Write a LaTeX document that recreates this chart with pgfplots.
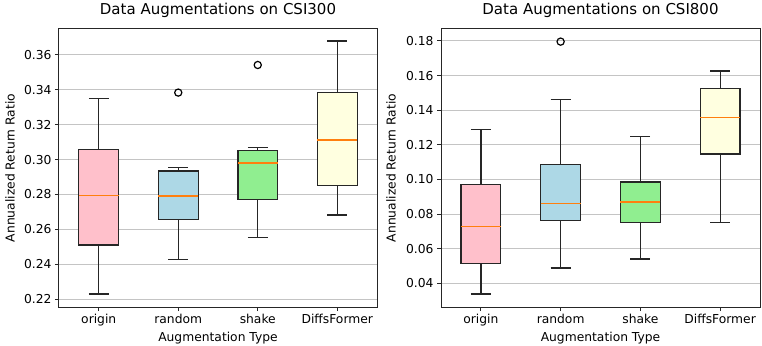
\documentclass[border=0pt]{standalone}
\usepackage{fontspec}
\setmainfont{DejaVu Sans}
\usepackage{pgfplots}
\pgfplotsset{compat=1.18}
\usepgfplotslibrary{statistics}
\definecolor{cpink}{HTML}{FFC0CB}
\definecolor{cblue}{HTML}{ADD8E6}
\definecolor{cgreen}{HTML}{90EE90}
\definecolor{cyellow}{HTML}{FFFFE0}
\definecolor{cmed}{HTML}{FF7F0E}
\definecolor{cgrid}{HTML}{C4C4C4}
\pgfplotsset{
  myax/.style={
    scale only axis, height=278pt, anchor=south west,
    xmin=0.5, xmax=4.5, xtick={1,2,3,4},
    xticklabels={origin,random,shake,DiffsFormer},
    tick align=outside, xtick pos=left, ytick pos=left,
    major tick length=4pt,
    tick style={black!85, line width=0.9pt},
    axis line style={black!85, line width=1pt},
    ymajorgrids, grid style={cgrid, line width=0.9pt},
    tick label style={font=\fontsize{12.3}{14}\selectfont},
    label style={font=\fontsize{12.3}{14}\selectfont},
    title style={font=\fontsize{15}{18}\selectfont, at={(axis description cs:0.5,1)}, anchor=base, yshift=8pt},
    yticklabel={\pgfmathprintnumber[fixed,fixed zerofill,precision=2,assume math mode=true]{\tick}},
    xlabel=Augmentation Type, ylabel=Annualized Return Ratio,
    xlabel style={at={(axis description cs:0.5,0)}, anchor=base, yshift=-34pt},
    boxplot/draw direction=y,
    boxplot/box extend=0.5, boxplot/whisker extend=0.25,
    boxplot/every median/.style={draw=cmed, line width=1.3pt},
  },
  bx/.style={draw=black!85, line width=1.25pt, fill=#1, mark=o,
    mark options={draw=black, fill=none, line width=1.2pt}, mark size=3.6pt},
}
\begin{document}
\begin{tikzpicture}
\useasboundingbox (0,0) rectangle (762pt,345pt);
\begin{axis}[myax, at={(59pt,38pt)}, width=318pt,
  ymin=0.2156, ymax=0.3747,
  ytick={0.22,0.24,0.26,0.28,0.30,0.32,0.34,0.36},
  ylabel style={at={(axis description cs:-0.154,0.5)}, anchor=center},
  title={Data Augmentations on CSI300}]
\addplot[bx=cpink, boxplot prepared={draw position=1, lower whisker=0.2231, lower quartile=0.2511, median=0.2793, upper quartile=0.3058, upper whisker=0.3348}] coordinates {};
\addplot[bx=cblue, boxplot prepared={draw position=2, lower whisker=0.2427, lower quartile=0.2656, median=0.2791, upper quartile=0.2934, upper whisker=0.2953}] coordinates {(0,0.3383)};
\addplot[bx=cgreen, boxplot prepared={draw position=3, lower whisker=0.2553, lower quartile=0.2772, median=0.2980, upper quartile=0.3053, upper whisker=0.3070}] coordinates {(0,0.3541)};
\addplot[bx=cyellow, boxplot prepared={draw position=4, lower whisker=0.2683, lower quartile=0.2850, median=0.3112, upper quartile=0.3383, upper whisker=0.3678}] coordinates {};
\end{axis}
\begin{axis}[myax, at={(441pt,38pt)}, width=319pt,
  ymin=0.0263, ymax=0.1869,
  ytick={0.04,0.06,0.08,0.10,0.12,0.14,0.16,0.18},
  ylabel style={at={(axis description cs:-0.157,0.5)}, anchor=center},
  title={Data Augmentations on CSI800}]
\addplot[bx=cpink, boxplot prepared={draw position=1, lower whisker=0.0338, lower quartile=0.0514, median=0.0727, upper quartile=0.0970, upper whisker=0.1288}] coordinates {};
\addplot[bx=cblue, boxplot prepared={draw position=2, lower whisker=0.0489, lower quartile=0.0762, median=0.0862, upper quartile=0.1088, upper whisker=0.1461}] coordinates {(0,0.1796)};
\addplot[bx=cgreen, boxplot prepared={draw position=3, lower whisker=0.0541, lower quartile=0.0751, median=0.0870, upper quartile=0.0985, upper whisker=0.1247}] coordinates {};
\addplot[bx=cyellow, boxplot prepared={draw position=4, lower whisker=0.0752, lower quartile=0.1147, median=0.1357, upper quartile=0.1527, upper whisker=0.1627}] coordinates {};
\end{axis}
\end{tikzpicture}
\end{document}
